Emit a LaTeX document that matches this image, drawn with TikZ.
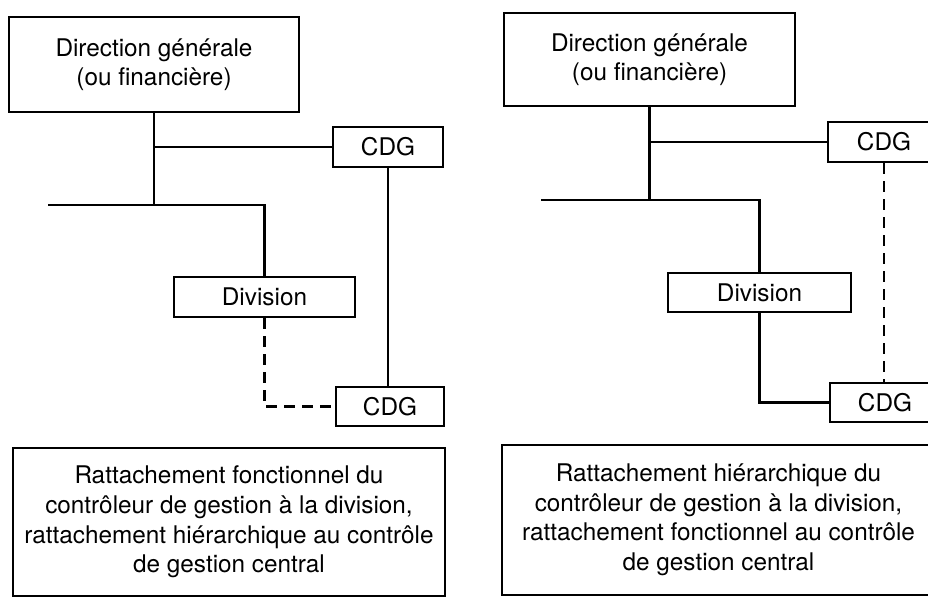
\documentclass[tikz,border=0pt]{standalone}
\usepackage{fontspec}
\setmainfont{TeX Gyre Heros}

\begin{document}
\begin{tikzpicture}[
    orgbox/.style={draw, line width=1.7pt, inner sep=0pt, align=center,
                   font=\fontsize{17.3}{21}\selectfont},
    link/.style={line width=1.7pt},
    dotlink/.style={line width=1.7pt, dash pattern=on 0.28cm off 0.17cm}]
    % Diagram: two org charts side by side, CDG attached two ways.
    % Coordinates: (x, y), origin top left
    %   left chart  x 0.2 .. 11.1, right chart x 12.5 .. 23.5
    %   bus lines at y=-5.125 (left) and y=-5.0 (right)
    \useasboundingbox (0,0) rectangle (23.2,-14.95);

    % left chart
    \node[orgbox, minimum width=7.25cm, minimum height=2.375cm] (dirL)
          at (3.85,-1.6125) {Direction générale\\(ou financière)};
    \node[orgbox, minimum width=2.75cm, minimum height=1.0cm] (cdgLa)
          at (9.7,-3.675) {CDG};
    \node[orgbox, minimum width=4.525cm, minimum height=1.0cm] (divL)
          at (6.6125,-7.425) {Division};
    \node[orgbox, minimum width=2.7cm, minimum height=0.975cm] (cdgLb)
          at (9.75,-10.1625) {CDG};
    \node[orgbox, minimum width=10.8cm, minimum height=3.7cm] (noteL)
          at (5.725,-13.05)
          {Rattachement fonctionnel du\\contrôleur de gestion à la division,\\
           rattachement hiérarchique au contrôle\\de gestion central};
    \coordinate (busL) at (1.2,-5.125);

    \draw[link] (dirL.south) -- (dirL.south |- busL);
    \draw[link] (dirL.south |- cdgLa.west) -- (cdgLa.west);
    \draw[link] (busL) -| (divL.north);
    \draw[link] (cdgLa.south) -- (cdgLa.south |- cdgLb.north);
    \draw[dotlink] (divL.south) |- (cdgLb.west);

    % right chart
    \node[orgbox, minimum width=7.275cm, minimum height=2.325cm] (dirR)
          at (16.2375,-1.4875) {Direction générale\\(ou financière)};
    \node[orgbox, minimum width=2.8cm, minimum height=1.0cm] (cdgRa)
          at (22.1,-3.55) {CDG};
    \node[orgbox, minimum width=4.575cm, minimum height=0.975cm] (divR)
          at (18.9875,-7.3125) {Division};
    \node[orgbox, minimum width=2.75cm, minimum height=0.975cm] (cdgRb)
          at (22.125,-10.0625) {CDG};
    \node[orgbox, minimum width=10.825cm, minimum height=3.75cm] (noteR)
          at (17.9625,-13.0)
          {Rattachement hiérarchique du\\contrôleur de gestion à la division,\\
           rattachement fonctionnel au contrôle\\de gestion central};
    \coordinate (busR) at (13.525,-5.0);

    \draw[link] (dirR.south) -- (dirR.south |- busR);
    \draw[link] (dirR.south |- cdgRa.west) -- (cdgRa.west);
    \draw[link] (busR) -| (divR.north);
    \draw[link] (divR.south) |- (cdgRb.west);
    \draw[dotlink] (cdgRa.south) -- (cdgRa.south |- cdgRb.north);
\end{tikzpicture}
\end{document}
